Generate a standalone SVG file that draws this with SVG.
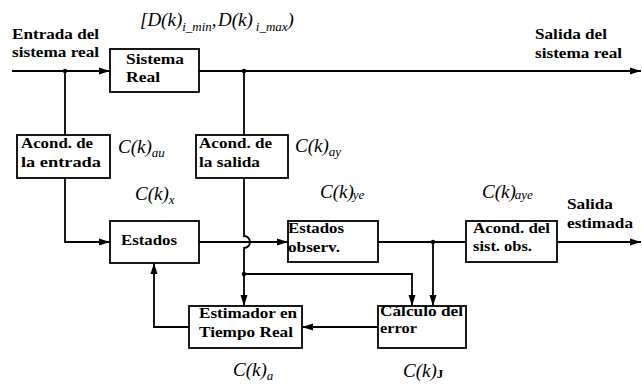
<svg xmlns="http://www.w3.org/2000/svg" width="642" height="385" viewBox="0 0 642 385">
<style>
.b{font-weight:bold;font-size:15px;fill:#000}
.m{font-style:italic;font-size:19px;fill:#000}
.s{font-size:13px}
.ln{stroke:#000;stroke-width:1.8;fill:none}
.bx{fill:#fff;stroke:#000;stroke-width:1.8}
</style>
<defs>
<marker id="ah" markerUnits="userSpaceOnUse" markerWidth="11" markerHeight="8" refX="11" refY="4" orient="auto">
<path d="M0,0.5 L11,4 L0,7.5 z" fill="#000"/>
</marker>
</defs>
<rect width="642" height="385" fill="#fff"/>

<g id="connectors">
<path class="ln" d="M12,71 H110" marker-end="url(#ah)"/>
<path class="ln" d="M199,71 H641" marker-end="url(#ah)"/>
<path class="ln" d="M65,71 V135"/>
<path class="ln" d="M65,178 V242 H110" marker-end="url(#ah)"/>
<path class="ln" d="M244,71 V135"/>
<path class="ln" d="M244,178 V236 A6,6 0 0 1 244,248 V306" marker-end="url(#ah)"/>
<path class="ln" d="M199,242 H288" marker-end="url(#ah)"/>
<path class="ln" d="M378,242 H466"/>
<path class="ln" d="M557,242 H641" marker-end="url(#ah)"/>
<path class="ln" d="M433,242 V306" marker-end="url(#ah)"/>
<path class="ln" d="M244,274 H412 V306" marker-end="url(#ah)"/>
<path class="ln" d="M378,327 H302" marker-end="url(#ah)"/>
<path class="ln" d="M189,327 H154 V263" marker-end="url(#ah)"/>
<circle cx="65" cy="71" r="2.2"/>
<circle cx="244" cy="71" r="2.2"/>
<circle cx="433" cy="242" r="2.2"/>
<circle cx="244" cy="274" r="2.2"/>
</g>

<g font-family="'Liberation Serif', serif">
<g id="labels-io">
<text class="b" x="12" y="39" textLength="87" lengthAdjust="spacingAndGlyphs">Entrada del</text>
<text class="b" x="12" y="57" textLength="87" lengthAdjust="spacingAndGlyphs">sistema real</text>
<text class="b" x="535" y="39" textLength="72" lengthAdjust="spacingAndGlyphs">Salida del</text>
<text class="b" x="535" y="58" textLength="87" lengthAdjust="spacingAndGlyphs">sistema real</text>
<text class="b" x="567" y="209" textLength="46" lengthAdjust="spacingAndGlyphs">Salida</text>
<text class="b" x="567" y="228" textLength="66" lengthAdjust="spacingAndGlyphs">estimada</text>
</g>

<g id="sistema-real">
<rect class="bx" x="110" y="49" width="89" height="43"/>
<text class="b" x="126" y="64" textLength="58" lengthAdjust="spacingAndGlyphs">Sistema</text>
<text class="b" x="126" y="82" textLength="34" lengthAdjust="spacingAndGlyphs">Real</text>
</g>

<g id="acond-entrada">
<rect class="bx" x="17" y="135" width="93" height="43"/>
<text class="b" x="21" y="148" textLength="72" lengthAdjust="spacingAndGlyphs">Acond. de</text>
<text class="b" x="21" y="167" textLength="80" lengthAdjust="spacingAndGlyphs">la entrada</text>
</g>

<g id="acond-salida">
<rect class="bx" x="196" y="135" width="92" height="43"/>
<text class="b" x="199" y="148" textLength="73" lengthAdjust="spacingAndGlyphs">Acond. de</text>
<text class="b" x="199" y="167" textLength="61" lengthAdjust="spacingAndGlyphs">la salida</text>
</g>

<g id="estados">
<rect class="bx" x="110" y="221" width="89" height="42"/>
<text class="b" x="121" y="245" textLength="56" lengthAdjust="spacingAndGlyphs">Estados</text>
</g>

<g id="estados-observ">
<rect class="bx" x="288" y="221" width="90" height="41"/>
<text class="b" x="288" y="233" textLength="56" lengthAdjust="spacingAndGlyphs">Estados</text>
<text class="b" x="288" y="252" textLength="52" lengthAdjust="spacingAndGlyphs">observ.</text>
</g>

<g id="acond-sist-obs">
<rect class="bx" x="466" y="221" width="91" height="41"/>
<text class="b" x="473" y="233" textLength="77" lengthAdjust="spacingAndGlyphs">Acond. del</text>
<text class="b" x="473" y="251" textLength="59" lengthAdjust="spacingAndGlyphs">sist. obs.</text>
</g>

<g id="estimador">
<rect class="bx" x="189" y="306" width="113" height="42"/>
<text class="b" x="199" y="318" textLength="98" lengthAdjust="spacingAndGlyphs">Estimador en</text>
<text class="b" x="199" y="337" textLength="94" lengthAdjust="spacingAndGlyphs">Tiempo Real</text>
</g>

<g id="calculo-error">
<rect class="bx" x="378" y="306" width="88" height="42"/>
<text class="b" x="380" y="316" textLength="83" lengthAdjust="spacingAndGlyphs">Cálculo del</text>
<text class="b" x="380" y="333" textLength="37" lengthAdjust="spacingAndGlyphs">error</text>
</g>

<g id="math-labels">
<text class="m" x="140" y="26">[D(k)<tspan class="s" dy="5">i_min</tspan><tspan dy="-5">,</tspan><tspan x="218">D(k)</tspan><tspan class="s" dy="5" dx="3">i_max</tspan><tspan dy="-5">)</tspan></text>
<text class="m" x="118" y="153">C(k)<tspan class="s" dy="4">au</tspan></text>
<text class="m" x="295" y="152">C(k)<tspan class="s" dy="4">ay</tspan></text>
<text class="m" x="135" y="200">C(k)<tspan class="s" dy="4">x</tspan></text>
<text class="m" x="320" y="198">C(k)<tspan class="s" dy="1" dx="-1">ye</tspan></text>
<text class="m" x="482" y="198">C(k)<tspan class="s" dy="1" dx="-1">aye</tspan></text>
<text class="m" x="233" y="376">C(k)<tspan class="s" dy="4">a</tspan></text>
<text class="m" x="403" y="377">C(k)<tspan class="s" dy="1" font-style="normal" font-weight="bold">J</tspan></text>
</g>
</g>
</svg>
